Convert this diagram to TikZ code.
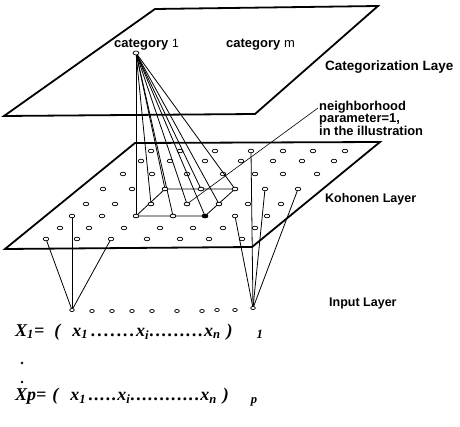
\documentclass[tikz,border=0pt]{standalone}
\usepackage{fontspec}
\setmainfont{Liberation Serif}
\newfontfamily\labfont{Liberation Sans}
\usetikzlibrary{shapes.geometric}
\newcommand\dotrun[1]{\hbox to #1{\xleaders\hbox to 5.8pt{\hss.\hss}\hfill}}
\begin{document}
\begin{tikzpicture}[x=1pt,y=-1pt,
  plane/.style={line width=1.8pt, line join=miter},
  conn/.style={line width=0.8pt},
  kdot/.style={draw, ellipse, minimum width=5.6pt, minimum height=3.6pt, inner sep=0pt, line width=0.7pt, fill=white},
  idot/.style={draw, ellipse, minimum width=4.6pt, minimum height=3.2pt, inner sep=0pt, line width=0.7pt, fill=white},
  labt/.style={font=\labfont\bfseries\fontsize{12.5}{12.5}\selectfont, inner sep=0pt, anchor=west},
  nbt/.style={font=\labfont\bfseries\fontsize{12.9}{12.4}\selectfont, inner sep=0pt, anchor=north west, align=left},
  form/.style={font=\bfseries\itshape\fontsize{18}{18}\selectfont, inner sep=0pt, anchor=west},
  vdot/.style={circle, fill=black, inner sep=0pt, minimum size=2.8pt}]
\useasboundingbox (0,0) rectangle (460,427);
% categorization plane
\coordinate (p1) at (155,9);
\coordinate (p2) at (378,6);
\coordinate (p3) at (255,114);
\coordinate (p4) at (4,116);
\draw[plane] (p1) -- (p2) -- (p3) -- (p4) -- cycle;
% kohonen plane
\coordinate (q1) at (135,143);
\coordinate (q2) at (380,142);
\coordinate (q3) at (252,247);
\coordinate (q4) at (5,249);
\draw[plane] (q1) -- (q2) -- (q3) -- (q4) -- cycle;
% category node
\node[kdot, minimum width=6pt, minimum height=4pt] (cat1) at (136,53) {};
% kohonen dots
\foreach \r/\y/\xs in {A/151/{151,180,215,251,283,313,345},
                       B/161/{141,170,205,241,273,302,334},
                       C/174/{123,152,187,223,255,283,317},
                       D/189/{103,132,165,201,235,265,298},
                       E/204/{86,115,151,187,219,248,281},
                       F/216/{72,102,136,173,205,235,267},
                       G/228/{60,89,124,160,193,223,255},
                       H/239/{46,77,111,147,180,209,242}}{
  \foreach \x [count=\c] in \xs {
    \node[kdot] (\r\c) at (\x,\y) {};
  }
}
% input dots
\foreach \x/\y [count=\c] in {72/310,92/311,112/311,132/311,152/311,177/311,202/311,217/310,235/310,253/308}{
  \node[idot] (i\c) at (\x,\y) {};
}
% connections category -> neighbourhood
\foreach \t in {D3,D4,D5,E3,E4,E5,F3,F4,F5}{
  \draw[conn] (cat1) -- (\t);
}
% neighbourhood outline
\draw[conn] (F3.center) -- (F5.center) -- (D5.center) -- (D3.center) -- cycle;
% input -> kohonen
\foreach \t in {H1,F1,H3}{ \draw[conn] (i1) -- (\t); }
\foreach \t in {F6,A4,D6,D7}{ \draw[conn] (i10) -- (\t); }
% leader
\coordinate (lead) at (318,108);
\draw[line width=0.6pt] (lead) -- (E4);
% redraw dots on top
\foreach \r/\n in {D/3,D/4,D/5,E/3,E/4,E/5,F/3,F/4,F/5}{
  \node[kdot] at (\r\n) {};
}
\node[kdot, fill=black] at (F5) {};
% labels
\node[labt, font=\labfont\bfseries\fontsize{13}{13}\selectfont] (lc1) at (114,45) {category \textmd{\fontsize{12}{12}\selectfont 1}};
\node[labt, font=\labfont\bfseries\fontsize{13}{13}\selectfont] (lcm) at (226,45) {category \textmd{\fontsize{13}{13}\selectfont m}};
\node[labt, font=\labfont\bfseries\fontsize{13.5}{13.5}\selectfont] (lcat) at (325,67) {Categorization Laye};
\node[nbt] (lnb) at (319,101) {neighborhood\\parameter=1,\\in the illustration};
\node[labt] (lkoh) at (325,199) {Kohonen Layer};
\node[labt] (linp) at (329,303) {Input Layer};
% formulas
\node[form] (f1) at (15,332) {X\textsubscript{1}=\hspace{10pt}(\hspace{12pt}x\textsubscript{1}\hspace{2pt}\dotrun{46pt}x\textsubscript{i}\dotrun{55pt}x\textsubscript{n}\hspace{6pt})\hspace{24pt}\textsubscript{1}};
\node[vdot] (d1) at (22,363) {};
\node[vdot] (d2) at (22,382) {};
\node[form] (f2) at (15,397) {Xp=\hspace{6pt}(\hspace{12pt}x\textsubscript{1}\hspace{2pt}\dotrun{29pt}x\textsubscript{i}\dotrun{70pt}x\textsubscript{n}\hspace{6pt})\hspace{22pt}\textsubscript{p}};
\end{tikzpicture}
\end{document}
